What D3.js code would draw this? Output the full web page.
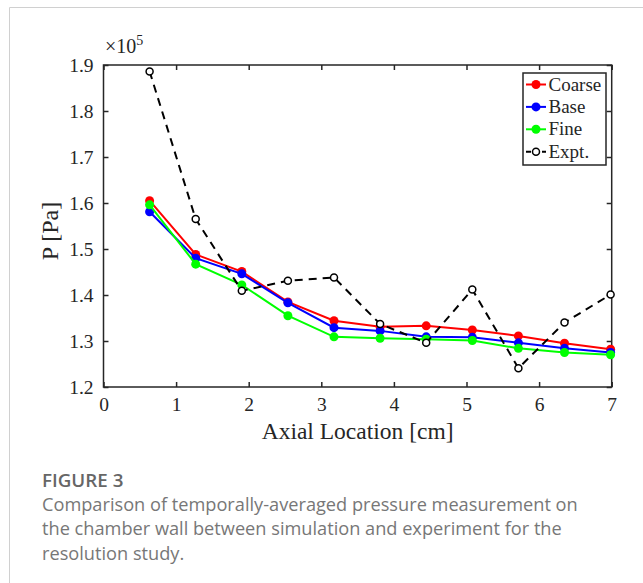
<!DOCTYPE html>
<html>
<head>
<meta charset="utf-8">
<script src="https://cdn.jsdelivr.net/npm/d3@7"></script>
<style>
  body { margin: 0; background: #fff; }
  svg { display: block; }
</style>
</head>
<body>
<div id="chart"></div>
<script>
// axial probe locations [cm], spaced 1/4 inch
var locations = [0.635, 1.27, 1.905, 2.54, 3.175, 3.81, 4.445, 5.08, 5.715, 6.35, 6.985];

// pressure, units of 1e5 Pa
var coarse = [1.605, 1.488, 1.451, 1.385, 1.344, 1.331, 1.333, 1.324, 1.311, 1.295, 1.282];
var base   = [1.581, 1.480, 1.446, 1.383, 1.329, 1.322, 1.309, 1.308, 1.296, 1.284, 1.275];
var fine   = [1.596, 1.467, 1.422, 1.355, 1.309, 1.306, 1.304, 1.301, 1.284, 1.275, 1.270];
var expt   = [1.886, 1.565, 1.409, 1.431, 1.438, 1.337, 1.296, 1.412, 1.241, 1.340, 1.401];

var xTicks = [0, 1, 2, 3, 4, 5, 6, 7];
var yTicks = [1.2, 1.3, 1.4, 1.5, 1.6, 1.7, 1.8, 1.9];

var series = [
    { name: "Coarse", values: coarse, color: "#ff0000", dashed: false, open: false },
    { name: "Base",   values: base,   color: "#0000ff", dashed: false, open: false },
    { name: "Fine",   values: fine,   color: "#00ff00", dashed: false, open: false },
    { name: "Expt.",  values: expt,   color: "#000000", dashed: true,  open: true }
];

var W = 643, H = 583;
var serif = "'Liberation Serif', 'DejaVu Serif', serif";

var svg = d3.select("#chart").append("svg")
    .attr("width", W)
    .attr("height", H);

// page frame
svg.append("path")
    .attr("d", "M9.5," + H + "V7.5H" + W)
    .attr("fill", "none")
    .attr("stroke", "#d0d0d0")
    .attr("stroke-width", 1);

var m = { left: 103.5, right: 611.7, top: 65, bottom: 387 };

var x = d3.scaleLinear().domain([0, 7]).range([m.left, m.right]);
var y = d3.scaleLinear().domain([1.2, 1.9]).range([m.bottom, m.top]);

// axes (ticks inward, box)
var g = svg.append("g");

var xAxis = d3.axisBottom(x).tickValues(xTicks).tickSize(-5).tickPadding(10).tickFormat(d3.format("d"));
var xAxisTop = d3.axisTop(x).tickValues(xTicks).tickSize(-5).tickFormat("");
var yAxis = d3.axisLeft(y).tickValues(yTicks).tickSize(-5).tickPadding(10).tickFormat(d3.format(".1f"));
var yAxisRight = d3.axisRight(y).tickValues(yTicks).tickSize(-5).tickFormat("");

function styleAxis(sel) {
    sel.selectAll(".domain").remove();
    sel.selectAll(".tick line").attr("stroke", "#262626").attr("stroke-width", 1.5);
    sel.selectAll(".tick text")
        .attr("font-family", serif)
        .attr("font-size", 19.5)
        .attr("fill", "#262626");
}

g.append("g").attr("transform", "translate(0," + m.bottom + ")").call(xAxis).call(styleAxis);
g.append("g").attr("transform", "translate(0," + m.top + ")").call(xAxisTop).call(styleAxis);
g.append("g").attr("transform", "translate(" + m.left + ",0)").call(yAxis).call(styleAxis);
g.append("g").attr("transform", "translate(" + m.right + ",0)").call(yAxisRight).call(styleAxis);

g.append("rect")
    .attr("x", m.left).attr("y", m.top)
    .attr("width", m.right - m.left).attr("height", m.bottom - m.top)
    .attr("fill", "none").attr("stroke", "#262626").attr("stroke-width", 1.5);

// exponent label
var expo = svg.append("text")
    .attr("x", 105).attr("y", 53)
    .attr("font-family", serif).attr("font-size", 20).attr("fill", "#262626");
expo.append("tspan").text("\u00d710");
expo.append("tspan").attr("dy", -8).attr("font-size", 14).text("5");

// axis titles
svg.append("text")
    .attr("x", (m.left + m.right) / 2).attr("y", 439)
    .attr("text-anchor", "middle")
    .attr("font-family", serif).attr("font-size", 23.5).attr("fill", "#262626")
    .text("Axial Location [cm]");

svg.append("text")
    .attr("transform", "translate(58,231) rotate(-90)")
    .attr("text-anchor", "middle")
    .attr("font-family", serif).attr("font-size", 24).attr("fill", "#262626")
    .text("P [Pa]");

// lines + markers
var line = d3.line()
    .x(function (d, i) { return x(locations[i]); })
    .y(function (d) { return y(d); });

series.forEach(function (s) {
    var sg = svg.append("g");
    sg.append("path")
        .datum(s.values)
        .attr("d", line)
        .attr("fill", "none")
        .attr("stroke", s.color)
        .attr("stroke-width", 2)
        .attr("stroke-dasharray", s.dashed ? "8,6" : null);
    sg.selectAll("circle")
        .data(s.values)
        .enter().append("circle")
        .attr("cx", function (d, i) { return x(locations[i]); })
        .attr("cy", function (d) { return y(d); })
        .attr("r", s.open ? 3.5 : 4.5)
        .attr("fill", s.open ? "#fff" : s.color)
        .attr("stroke", s.color)
        .attr("stroke-width", s.open ? 1.5 : 0);
});

// legend
var lg = svg.append("g").attr("transform", "translate(523,73)");
lg.append("rect")
    .attr("width", 83).attr("height", 92)
    .attr("fill", "#fff").attr("stroke", "#262626").attr("stroke-width", 1.5);

series.forEach(function (s, i) {
    var ly = 11.5 + i * 22.4;
    var row = lg.append("g").attr("transform", "translate(0," + ly + ")");
    row.append("line")
        .attr("x1", 3).attr("x2", 23)
        .attr("stroke", s.color).attr("stroke-width", 2)
        .attr("stroke-dasharray", s.dashed ? "5,3" : null);
    row.append("circle")
        .attr("cx", 13).attr("cy", 0)
        .attr("r", s.open ? 3.5 : 4.5)
        .attr("fill", s.open ? "#fff" : s.color)
        .attr("stroke", s.color)
        .attr("stroke-width", s.open ? 1.5 : 0);
    row.append("text")
        .attr("x", 25.5).attr("y", 6)
        .attr("font-family", serif).attr("font-size", 19).attr("fill", "#262626")
        .text(s.name);
});

// caption
var sans = "'Open Sans', Lato, 'Noto Sans', sans-serif";
svg.append("text")
    .attr("x", 42).attr("y", 487)
    .attr("font-family", sans).attr("font-size", 18.8).attr("font-weight", 600)
    .attr("fill", "#666")
    .text("FIGURE 3");

var captionLines = [
    "Comparison of temporally-averaged pressure measurement on",
    "the chamber wall between simulation and experiment for the",
    "resolution study."
];
svg.append("g").selectAll("text")
    .data(captionLines)
    .enter().append("text")
    .attr("x", 42)
    .attr("y", function (d, i) { return 511 + i * 24.3; })
    .attr("font-family", sans).attr("font-size", 18.2)
    .attr("fill", "#777")
    .text(function (d) { return d; });
</script>
</body>
</html>
